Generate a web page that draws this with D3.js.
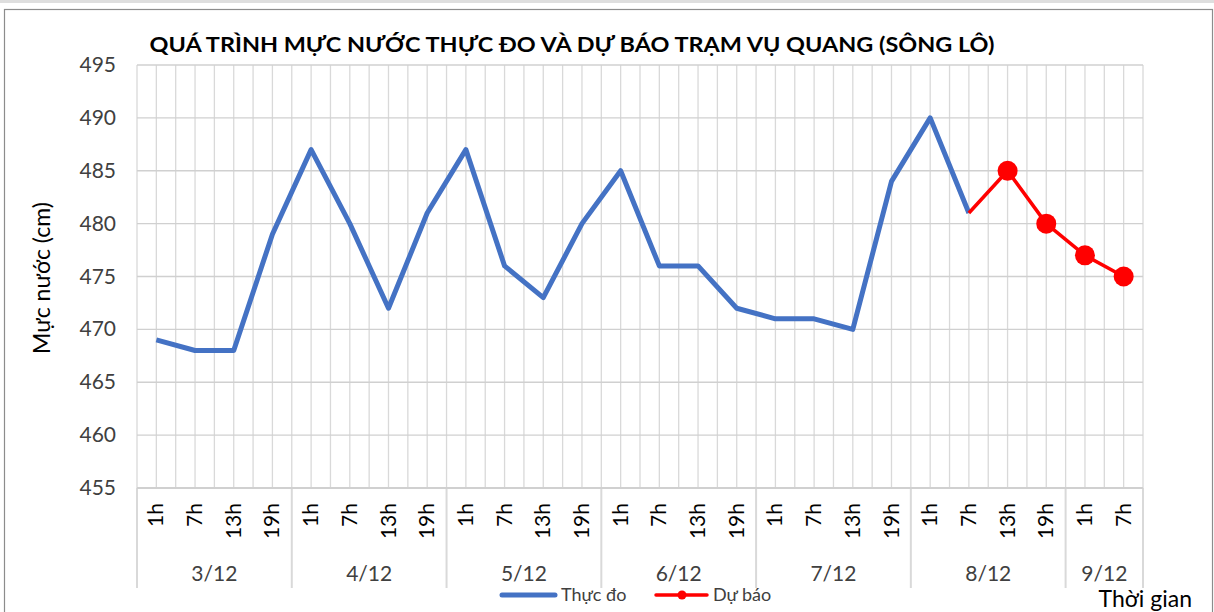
<!DOCTYPE html><html lang="vi"><head><meta charset="UTF-8"><title>Mực nước Vụ Quang</title><script src="https://d3js.org/d3.v7.min.js"></script><style>
        body { margin: 0; background: #fff; font-family: Lato, "Open Sans", sans-serif; }
        svg { display: block; }
        .grid line { stroke: #d9d9d9; stroke-width: 1.3px; }
        .tick-y { font-size: 21px; fill: #404040; }
        .hour { font-size: 21px; fill: #000; }
        .day { font-size: 21px; fill: #404040; }
    </style></head><body><svg id="chart"></svg><script>
        // data
        const days = ["3/12", "4/12", "5/12", "6/12", "7/12", "8/12", "9/12"];
        const dayHours = [
            ["1h", "7h", "13h", "19h"],
            ["1h", "7h", "13h", "19h"],
            ["1h", "7h", "13h", "19h"],
            ["1h", "7h", "13h", "19h"],
            ["1h", "7h", "13h", "19h"],
            ["1h", "7h", "13h", "19h"],
            ["1h", "7h"]
        ];
        const observed = [469, 468, 468, 479, 487, 480, 472, 481, 487, 476, 473, 480,
                          485, 476, 476, 472, 471, 471, 470, 484, 490, 481];
        const forecastStart = 21; // forecast begins at 8/12 7h
        const forecast = [481, 485, 480, 477, 475];
        const yTicks = [455, 460, 465, 470, 475, 480, 485, 490, 495];

        const W = 1214, H = 612;
        const pLeft = 137, pRight = 1143, pTop = 65, pBottom = 488;

        const svg = d3.select("#chart").attr("width", W).attr("height", H);

        // frame
        svg.append("rect").attr("x", 0).attr("y", 0).attr("width", W).attr("height", 3).attr("fill", "#dedede");
        svg.append("rect").attr("x", 4.5).attr("y", 9.5).attr("width", 1208).attr("height", 620)
            .attr("fill", "#fff").attr("stroke", "#8c8c8c").attr("stroke-width", 1.2);

        // categories
        const cats = [];
        dayHours.forEach((hs, di) => hs.forEach(h => cats.push({ day: days[di], hour: h })));

        const x = d3.scaleBand().domain(d3.range(cats.length)).range([pLeft, pRight]).padding(0);
        const bw = x.bandwidth();
        const cx = i => x(i) + bw / 2;
        const y = d3.scaleLinear().domain([455, 495]).range([pBottom, pTop]);

        // gridlines
        const grid = svg.append("g").attr("class", "grid");
        const vx = [];
        cats.forEach((c, i) => { vx.push(x(i)); vx.push(cx(i)); });
        vx.push(pRight);
        grid.selectAll(".v").data(vx).enter().append("line")
            .attr("x1", d => d).attr("x2", d => d).attr("y1", pTop).attr("y2", pBottom);
        grid.selectAll(".h").data(yTicks).enter().append("line")
            .attr("x1", pLeft).attr("x2", pRight).attr("y1", d => y(d)).attr("y2", d => y(d))
            .style("stroke", "#d0d0d0");

        // y tick labels
        svg.selectAll(".tick-y").data(yTicks).enter().append("text")
            .attr("class", "tick-y")
            .attr("x", 116).attr("y", d => y(d) + 7)
            .attr("text-anchor", "end").text(d => d);

        // x axis: category band separators
        let idx = 0;
        const groups = dayHours.map((hs, di) => {
            const g = { day: days[di], start: idx, end: idx + hs.length - 1 };
            idx += hs.length;
            return g;
        });
        const sepX = groups.map(g => x(g.start)).concat([pRight]);
        svg.append("g").attr("class", "grid").selectAll("line").data(sepX).enter().append("line")
            .attr("x1", d => d).attr("x2", d => d).attr("y1", pBottom).attr("y2", 588)
            .style("stroke-width", "2px");
        svg.append("line").attr("x1", pLeft).attr("x2", pRight).attr("y1", pBottom).attr("y2", pBottom)
            .attr("stroke", "#d0d0d0").attr("stroke-width", 2);

        svg.selectAll(".hour").data(cats).enter().append("text")
            .attr("class", "hour")
            .attr("transform", (d, i) => `translate(${cx(i) + 7},503) rotate(-90)`)
            .attr("text-anchor", "end").text(d => d.hour);

        svg.selectAll(".day").data(groups).enter().append("text")
            .attr("class", "day")
            .attr("x", g => (x(g.start) + x(g.end) + bw) / 2).attr("y", 581)
            .attr("text-anchor", "middle").text(g => g.day);

        // lines
        const line = d3.line().x(d => cx(d.i)).y(d => y(d.v));
        const obsPts = observed.map((v, i) => ({ i, v }));
        const fcPts = forecast.map((v, k) => ({ i: forecastStart + k, v }));

        svg.append("path").datum(obsPts).attr("d", line)
            .attr("fill", "none").attr("stroke", "#4472c4").attr("stroke-width", 5)
            .attr("stroke-linejoin", "round");
        svg.append("path").datum(fcPts).attr("d", line)
            .attr("fill", "none").attr("stroke", "#ff0000").attr("stroke-width", 3.5)
            .attr("stroke-linejoin", "round");
        svg.selectAll(".dot").data(fcPts.slice(1)).enter().append("circle")
            .attr("cx", d => cx(d.i)).attr("cy", d => y(d.v)).attr("r", 10).attr("fill", "#ff0000");

        // title
        svg.append("text").attr("x", 572).attr("y", 52).attr("text-anchor", "middle")
            .attr("font-size", 20).attr("font-weight", "bold").attr("fill", "#000")
            .attr("textLength", 845).attr("lengthAdjust", "spacingAndGlyphs")
            .text("QUÁ TRÌNH MỰC NƯỚC THỰC ĐO VÀ DỰ BÁO TRẠM VỤ QUANG (SÔNG LÔ)");

        // axis titles
        svg.append("text").attr("transform", "translate(50,278) rotate(-90)")
            .attr("text-anchor", "middle").attr("font-size", 23).attr("fill", "#000")
            .text("Mực nước (cm)");
        svg.append("text").attr("x", 1192).attr("y", 607).attr("text-anchor", "end")
            .attr("font-size", 23).attr("fill", "#000").text("Thời gian");

        // legend
        const lg = svg.append("g");
        lg.append("line").attr("x1", 502).attr("x2", 555).attr("y1", 595).attr("y2", 595)
            .attr("stroke", "#4472c4").attr("stroke-width", 5).attr("stroke-linecap", "round");
        lg.append("text").attr("x", 561).attr("y", 601).attr("font-size", 18).attr("fill", "#404040").text("Thực đo");
        lg.append("line").attr("x1", 656).attr("x2", 707).attr("y1", 595).attr("y2", 595)
            .attr("stroke", "#ff0000").attr("stroke-width", 3.5).attr("stroke-linecap", "round");
        lg.append("circle").attr("cx", 682).attr("cy", 595).attr("r", 4.5).attr("fill", "#ff0000");
        lg.append("text").attr("x", 713).attr("y", 601).attr("font-size", 18).attr("fill", "#404040").text("Dự báo");
    </script></body></html>
